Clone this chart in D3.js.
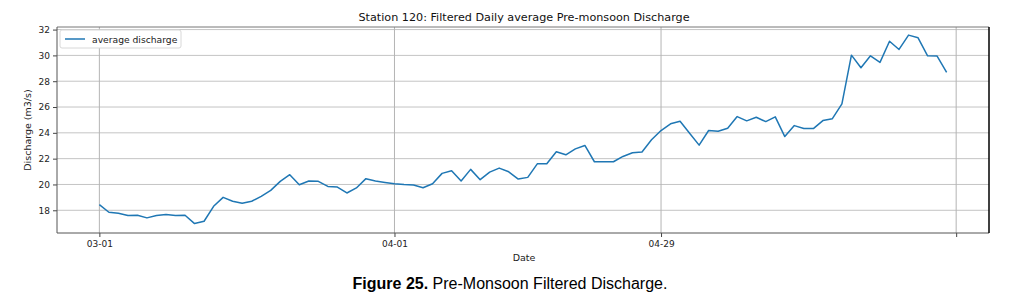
<!DOCTYPE html>
<html>
<head>
<meta charset="utf-8">
<script src="https://cdn.jsdelivr.net/npm/d3@7"></script>
<style>
  body { margin: 0; background: #fff; }
  text { font-family: "DejaVu Sans", sans-serif; }
</style>
</head>
<body>
<div id="chart"></div>
<script>
// Data: daily filtered discharge, 03-01 .. 05-29
const startDate = "2021-03-01"
const discharge = [
  18.44, 17.85, 17.77, 17.59, 17.62, 17.41, 17.60, 17.67, 17.60, 17.62,
  16.97, 17.15, 18.31, 19.00, 18.70, 18.54, 18.70, 19.08, 19.54, 20.24,
  20.76, 19.98, 20.27, 20.24, 19.85, 19.80, 19.34, 19.73, 20.45, 20.27,
  20.16, 20.06, 20.00, 19.96, 19.75, 20.06, 20.86, 21.07, 20.27, 21.17,
  20.37, 20.96, 21.27, 20.98, 20.42, 20.55, 21.60, 21.60, 22.53, 22.30,
  22.76, 23.02, 21.76, 21.76, 21.76, 22.17, 22.46, 22.52, 23.46, 24.18,
  24.70, 24.90, 23.97, 23.05, 24.18, 24.13, 24.36, 25.26, 24.93, 25.21,
  24.87, 25.24, 23.71, 24.56, 24.33, 24.33, 24.95, 25.10, 26.24, 30.02,
  29.04, 29.97, 29.46, 31.10, 30.46, 31.57, 31.36, 29.97, 29.95, 28.69
]
const xTickDates = ["2021-03-01", "2021-04-01", "2021-04-29", "2021-05-30"]
const xTickLabels = ["03-01", "04-01", "04-29", ""]
const yTicks = [18, 20, 22, 24, 26, 28, 30, 32]

const width = 1027
const height = 306
const margin = { top: 27, bottom: 73, left: 57, right: 38 }

const parse = d3.utcParse("%Y-%m-%d")
const day = 86400000
const t0 = parse(startDate)
const data = discharge.map((v, i) => ({ date: new Date(t0.getTime() + i * day), value: v }))

const svg = d3.select("#chart")
  .append("svg")
  .attr("width", width)
  .attr("height", height)

const innerW = width - margin.left - margin.right
const innerH = height - margin.top - margin.bottom

// Escalas (matplotlib-like 5% margins)
const span = (discharge.length - 1) * day
const x = d3.scaleUtc()
  .domain([new Date(t0.getTime() - 0.05 * span), new Date(t0.getTime() + 1.05 * span)])
  .range([0, innerW])
const yMin = d3.min(discharge), yMax = d3.max(discharge)
const yPad = (yMax - yMin) * 0.05
const y = d3.scaleLinear()
  .domain([yMin - yPad, yMax + yPad - 0.1])
  .range([innerH, 0])

const g = svg.append("g").attr("transform", `translate(${margin.left}, ${margin.top})`)

// Grid
const tickDates = xTickDates.map(parse)
g.append("g").selectAll("line").data(yTicks).join("line")
  .attr("x1", 0).attr("x2", innerW)
  .attr("y1", d => y(d)).attr("y2", d => y(d))
  .attr("stroke", "#c4c4c4").attr("stroke-width", 1)
g.append("g").selectAll("line").data(tickDates).join("line")
  .attr("y1", 0).attr("y2", innerH)
  .attr("x1", d => x(d)).attr("x2", d => x(d))
  .attr("stroke", "#b4b4b4").attr("stroke-width", 1)

// Axes
const xAxis = d3.axisBottom(x).tickValues(tickDates)
  .tickFormat((d, i) => xTickLabels[i]).tickSize(4).tickPadding(4)
const yAxis = d3.axisLeft(y).tickValues(yTicks).tickSize(4).tickPadding(3)

const xAxisGroup = g.append("g").attr("transform", `translate(0, ${innerH})`).call(xAxis)
const yAxisGroup = g.append("g").call(yAxis)
;[xAxisGroup, yAxisGroup].forEach(a => {
  a.select(".domain").remove()
  a.selectAll("line").attr("stroke", "#444")
  a.selectAll("text").attr("fill", "#222").style("font-size", "9px")
})

// Spines
g.append("line").attr("x1", 0).attr("x2", innerW).attr("y1", 0).attr("y2", 0).attr("stroke", "#777")
g.append("line").attr("x1", 0).attr("x2", innerW).attr("y1", innerH).attr("y2", innerH).attr("stroke", "#555")
g.append("line").attr("x1", 0).attr("x2", 0).attr("y1", 0).attr("y2", innerH).attr("stroke", "#555")
g.append("line").attr("x1", innerW).attr("x2", innerW).attr("y1", 0).attr("y2", innerH)
  .attr("stroke", "#000").attr("stroke-width", 1.5)

// Line
const line = d3.line().x(d => x(d.date)).y(d => y(d.value))
g.append("path").datum(data)
  .attr("d", line)
  .attr("fill", "none")
  .attr("stroke", "#1f77b4")
  .attr("stroke-width", 1.5)
  .attr("stroke-linejoin", "round")

// Legend
const legend = g.append("g").attr("transform", "translate(3, 3)")
legend.append("rect").attr("width", 121).attr("height", 18).attr("rx", 2)
  .attr("fill", "#fff").attr("stroke", "#d8d8d8")
legend.append("line").attr("x1", 5).attr("x2", 25).attr("y1", 9).attr("y2", 9)
  .attr("stroke", "#1f77b4").attr("stroke-width", 1.5)
legend.append("text").attr("x", 32).attr("y", 12.5).style("font-size", "9.2px").attr("fill", "#222")
  .text("average discharge")

// Labels
svg.append("text").attr("x", 524).attr("y", 21).attr("text-anchor", "middle")
  .style("font-size", "11.2px").attr("fill", "#111")
  .text("Station 120: Filtered Daily average Pre-monsoon Discharge")
svg.append("text").attr("x", 524).attr("y", 261).attr("text-anchor", "middle")
  .style("font-size", "9.5px").attr("fill", "#222").text("Date")
svg.append("text").attr("transform", "translate(31, 130) rotate(-90)").attr("text-anchor", "middle")
  .style("font-size", "9.5px").attr("fill", "#222").text("Discharge (m3/s)")

const cap = svg.append("text").attr("x", 510).attr("y", 289).attr("text-anchor", "middle")
  .style("font-family", "'Liberation Sans', Arial, sans-serif").style("font-size", "16px").attr("fill", "#000")
cap.append("tspan").attr("font-weight", "bold").text("Figure 25.")
cap.append("tspan").text(" Pre-Monsoon Filtered Discharge.")
</script>
</body>
</html>
